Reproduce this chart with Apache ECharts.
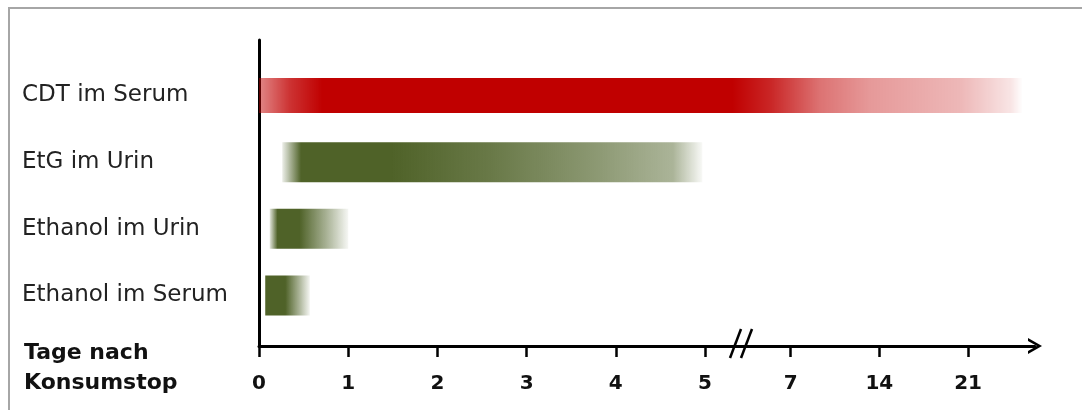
<!DOCTYPE html>
<html>
<head>
<meta charset="utf-8">
<script src="https://cdn.jsdelivr.net/npm/echarts@6/dist/echarts.min.js"></script>
<style>
    html, body { margin: 0; background: #fff; }
    #chart { width: 1082px; height: 410px; }
</style>
</head>
<body>
<div id="chart"></div>
<script>
// Nachweisdauer nach Konsumstop (Tage)
var kategorien = ['Ethanol im Serum', 'Ethanol im Urin', 'EtG im Urin', 'CDT im Serum'];
var startTage = [0.07, 0.12, 0.26, 0];
var endeTage = [0.57, 1.0, 4.97, 25.3];
var tickTage = [0, 1, 2, 3, 4, 5, 7, 14, 21];
var tickLabels = ['0', '1', '2', '3', '4', '5', '7', '14', '21'];

// Achse mit Bruch: 0..5 Tage linear, ab 7 Tagen eine Einheit pro Woche
function tagZuPos(tag) {
    if (tag <= 5) {
        return tag;
    }
    return 5.96 + (tag - 7) / 7 * 0.995;
}

var rot = '192,0,0';
var gruen = '79,98,40';
function verlauf(farbe, stops) {
    return new echarts.graphic.LinearGradient(0, 0, 1, 0, stops.map(function(s) {
        return {offset: s[0], color: 'rgba(' + farbe + ',' + s[1] + ')'};
    }));
}
// Verläufe je Balken (gleiche Reihenfolge wie kategorien)
var balkenFarben = [
    verlauf(gruen, [[0, 1], [0.45, 1], [0.75, 0.5], [1, 0.06]]),
    verlauf(gruen, [[0, 0.15], [0.1, 1], [0.38, 1], [0.75, 0.45], [1, 0.05]]),
    verlauf(gruen, [[0, 0.1], [0.045, 1], [0.26, 1], [0.5, 0.85], [0.75, 0.65], [0.93, 0.48], [1, 0.04]]),
    verlauf(rot, [[0, 0.47], [0.04, 0.8], [0.083, 1], [0.62, 1], [0.67, 0.85], [0.735, 0.55], [0.8, 0.4], [0.92, 0.28], [0.985, 0.1], [1, 0]])
];
var balkenHoehe = [40, 40, 40, 35];

var balkenDaten = kategorien.map(function(name, i) {
    return [i, tagZuPos(startTage[i]), tagZuPos(endeTage[i])];
});
var tickPos = tickTage.map(tagZuPos);

var chart = echarts.init(document.getElementById('chart'));
var fontName = '"DejaVu Sans", sans-serif';

var option = {
    animation: false,
    title: {
        text: 'Tage nach\nKonsumstop',
        left: 24,
        top: 338,
        padding: 0,
        textStyle: {
            fontFamily: fontName,
            fontSize: 22,
            fontWeight: 'bold',
            color: '#111',
            lineHeight: 30
        }
    },
    grid: {
        left: 259,
        top: 40,
        width: 776,
        height: 306
    },
    xAxis: {
        type: 'value',
        min: 0,
        max: 8.70,
        splitLine: {show: false},
        axisLine: {
            onZero: false,
            symbol: ['none', 'path://M0,14 L8,0 L16,14 L13,14 L8,5 L3,14 Z'],
            symbolSize: [16, 14],
            lineStyle: {color: '#000', width: 3}
        },
        axisTick: {
            customValues: tickPos,
            length: 11,
            lineStyle: {color: '#000', width: 2.5}
        },
        axisLabel: {
            customValues: tickPos,
            margin: 28,
            fontFamily: fontName,
            fontSize: 20,
            fontWeight: 'bold',
            color: '#111',
            formatter: function(v) {
                var idx = tickPos.findIndex(function(p) { return Math.abs(p - v) < 1e-6; });
                return idx >= 0 ? tickLabels[idx] : '';
            }
        }
    },
    yAxis: {
        type: 'value',
        min: -0.7575,
        max: 3.832,
        splitLine: {show: false},
        axisLine: {
            show: true,
            onZero: false,
            lineStyle: {color: '#000', width: 3}
        },
        axisTick: {show: false},
        axisLabel: {
            customValues: [0, 1, 2, 3],
            align: 'left',
            margin: 237,
            padding: [4, 0, 0, 0],
            fontFamily: fontName,
            fontSize: 23,
            color: '#222',
            formatter: function(v) {
                return kategorien[Math.round(v)] || '';
            }
        }
    },
    series: [{
        type: 'custom',
        data: balkenDaten,
        encode: {x: [1, 2], y: 0},
        renderItem: function(params, api) {
            var i = api.value(0);
            var p0 = api.coord([api.value(1), i]);
            var p1 = api.coord([api.value(2), i]);
            var h = balkenHoehe[i];
            return {
                type: 'rect',
                shape: {x: p0[0], y: p0[1] - h / 2, width: p1[0] - p0[0], height: h},
                style: {fill: balkenFarben[i]}
            };
        }
    }],
    graphic: [{
        type: 'rect',
        shape: {x: 9, y: 8, width: 1100, height: 420},
        style: {fill: 'none', stroke: '#a6a6a6', lineWidth: 2},
        silent: true
    }]
};
chart.setOption(option);

// Bruchzeichen auf der x-Achse zwischen 5 und 7
var bruch = chart.convertToPixel({gridIndex: 0}, [5.46, 0]);
var achseY = chart.convertToPixel({gridIndex: 0}, [0, -0.7575])[1];
chart.setOption({
    graphic: [option.graphic[0], {
        type: 'group',
        x: bruch[0],
        y: achseY,
        silent: true,
        children: [
            {type: 'rect', shape: {x: -8, y: -3, width: 14, height: 6}, style: {fill: '#fff'}},
            {type: 'line', shape: {x1: -16, y1: 12, x2: -5, y2: -17}, style: {stroke: '#000', lineWidth: 2.5}},
            {type: 'line', shape: {x1: -5, y1: 12, x2: 6, y2: -17}, style: {stroke: '#000', lineWidth: 2.5}}
        ]
    }]
});
</script>
</body>
</html>
